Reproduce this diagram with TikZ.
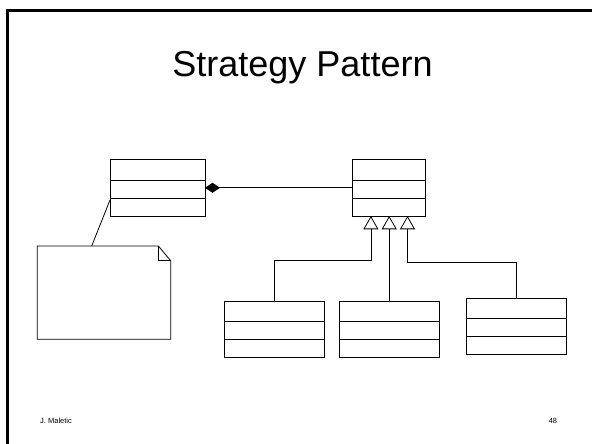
\documentclass[tikz,border=0pt]{standalone}
\usepackage{fontspec}
\setmainfont{Liberation Sans}
\usetikzlibrary{arrows.meta}
\tikzset{
  cls/.style={draw,line width=0.8pt,minimum height=56.4pt,inner sep=0pt,outer sep=0pt,
    path picture={
      \draw[line width=0.8pt]([yshift=-20.6pt]path picture bounding box.north west)--([yshift=-20.6pt]path picture bounding box.north east);
      \draw[line width=0.8pt]([yshift=-38.5pt]path picture bounding box.north west)--([yshift=-38.5pt]path picture bounding box.north east);
    }},
  gen/.style={line width=0.8pt,-{Triangle[open,length=13.3pt,width=15pt]}},
  comp/.style={line width=0.8pt,{Diamond[length=15pt,width=10pt]}-}
}
\begin{document}
\begin{tikzpicture}[x=1pt,y=1pt]
	    \useasboundingbox(0,0) rectangle (592,444);
	    % slide frame
	    \draw[line width=3pt](592,433.5)--(7.5,433.5)--(7.5,0);
	    \node[anchor=base] (title) at (302.5,367.3) {\fontsize{36}{40}\selectfont Strategy Pattern};
	    % classes
	    \node[cls,minimum width=95pt] (context) at (157.5,256.2) {};
	    \node[cls,minimum width=73pt] (strategy) at (389.2,256.2) {};
	    \node[cls,minimum width=100pt] (concA) at (274,114.85) {};
	    \node[cls,minimum width=100pt] (concB) at (389.2,114.85) {};
	    \node[cls,minimum width=100pt,minimum height=56pt] (concC) at (516.7,117.7) {};
	    % note
	    \node[minimum width=133.4pt,minimum height=93.3pt,inner sep=0pt,outer sep=0pt] (note) at (104,151.35) {};
	    \draw[line width=0.8pt](note.north west)--([xshift=-12.4pt]note.north east)--([yshift=-14.7pt]note.north east)--(note.south east)--(note.south west)--cycle;
	    \draw[line width=0.8pt]([xshift=-12.4pt]note.north east)|-([yshift=-14.7pt]note.north east);
	    \draw[line width=0.8pt]([yshift=16pt]context.south west)--([xshift=-12.3pt]note.north);
	    % links
	    \draw[comp](context.east)--(strategy.west);
	    \draw[gen](concA.north)--++(0,41)-|([xshift=-18.3pt]strategy.south);
	    \draw[gen](concB.north)--(strategy.south);
	    \draw[gen](concC.north)--++(0,36)-|([xshift=18.3pt]strategy.south);
	    % footer
	    \node[anchor=base west,inner sep=0pt] (author) at (40,20) {\fontsize{7.5}{9}\selectfont J. Maletic};
	    \node[anchor=base east,inner sep=0pt] (page) at (557.3,20) {\fontsize{7.5}{9}\selectfont 48};
	\end{tikzpicture}
\end{document}
